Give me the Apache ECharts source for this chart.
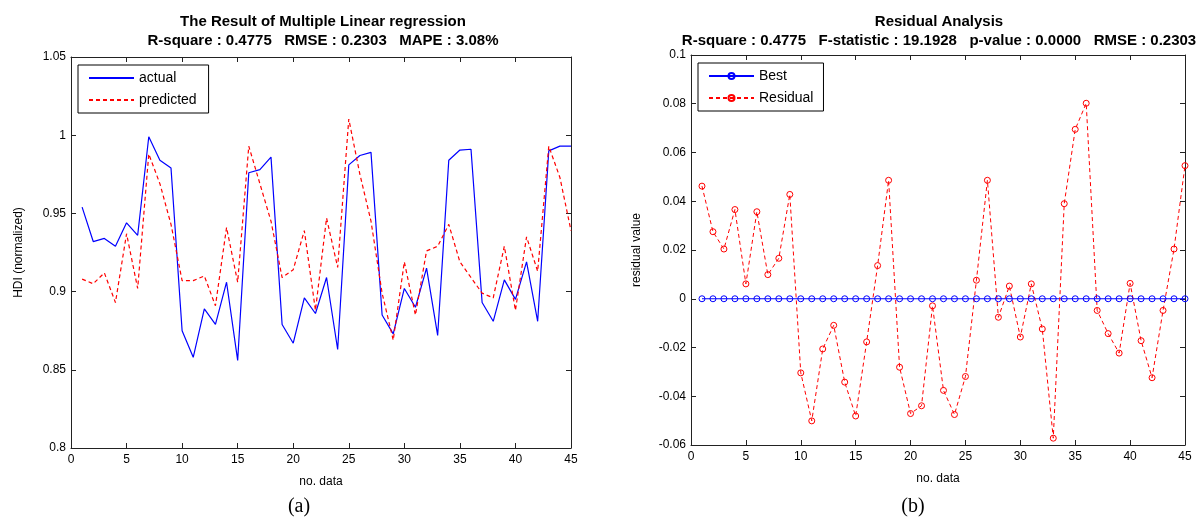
<!DOCTYPE html>
<html>
<head>
<meta charset="utf-8">
<script src="https://cdn.jsdelivr.net/npm/echarts@6/dist/echarts.min.js"></script>
<style>
html,body{margin:0;padding:0;background:#fff;}
#c{width:1199px;height:519px;}
</style>
</head>
<body>
<div id="c"></div>
<script>
// ---- data ----
const noData = [1,2,3,4,5,6,7,8,9,10,11,12,13,14,15,16,17,18,19,20,21,22,23,24,25,26,27,28,29,30,31,32,33,34,35,36,37,38,39,40,41,42,43,44,45];
const actual = [0.954,0.932,0.934,0.929,0.944,0.936,0.999,0.984,0.979,0.875,0.858,0.889,0.879,0.906,0.856,0.976,0.978,0.986,0.879,0.867,0.896,0.886,0.909,0.863,0.981,0.987,0.989,0.885,0.873,0.902,0.890,0.915,0.872,0.984,0.9905,0.991,0.893,0.881,0.9075,0.895,0.919,0.881,0.990,0.993,0.993];
const predicted = [0.908,0.905,0.912,0.893,0.937,0.902,0.988,0.969,0.943,0.907,0.907,0.910,0.891,0.941,0.906,0.993,0.969,0.945,0.909,0.914,0.939,0.888,0.947,0.9155,1.0103,0.975,0.945,0.899,0.869,0.919,0.885,0.926,0.929,0.943,0.919,0.909,0.899,0.896,0.929,0.888,0.935,0.913,0.993,0.973,0.939];
const best = [0,0,0,0,0,0,0,0,0,0,0,0,0,0,0,0,0,0,0,0,0,0,0,0,0,0,0,0,0,0,0,0,0,0,0,0,0,0,0,0,0,0,0,0,0];
const residual = [0.0462,0.0275,0.0204,0.0366,0.0061,0.0357,0.0099,0.0166,0.0428,-0.0304,-0.0501,-0.0206,-0.0109,-0.0342,-0.0481,-0.0177,0.0136,0.0486,-0.0281,-0.0471,-0.0439,-0.0029,-0.0376,-0.0475,-0.0319,0.0076,0.0486,-0.0076,0.0052,-0.0157,0.0061,-0.0124,-0.0572,0.039,0.0695,0.0802,-0.0048,-0.0143,-0.0223,0.0063,-0.0172,-0.0324,-0.0048,0.0204,0.0546];
const titleA = 'The Result of Multiple Linear regression';
const subA = 'R-square : 0.4775   RMSE : 0.2303   MAPE : 3.08%';
const titleB = 'Residual Analysis';
const subB = 'R-square : 0.4775   F-statistic : 19.1928   p-value : 0.0000   RMSE : 0.2303';

const pairs = (ys) => noData.map((x, i) => [x, ys[i]]);
const FONT = 'Liberation Sans, Arial, sans-serif';
const AX = '#222';

function xAxes(gi) {
  return [
    {gridIndex: gi, type: 'value', min: 0, max: 45, interval: 5, position: 'bottom',
     name: 'no. data', nameLocation: 'middle', nameGap: 28,
     nameTextStyle: {fontFamily: FONT, fontSize: 12, color: '#000'},
     axisLine: {show: true, onZero: false, lineStyle: {color: AX, width: 1}},
     axisTick: {show: true, inside: true, length: 5, lineStyle: {color: AX}},
     axisLabel: {fontFamily: FONT, fontSize: 12, color: '#000', margin: 6},
     splitLine: {show: false}},
    {gridIndex: gi, type: 'value', min: 0, max: 45, interval: 5, position: 'top',
     axisLine: {show: true, onZero: false, lineStyle: {color: AX, width: 1}},
     axisTick: {show: true, inside: true, length: 5, lineStyle: {color: AX}},
     axisLabel: {show: false}, splitLine: {show: false}}
  ];
}
function yAxes(gi, min, max, interval, name, nameGap) {
  return [
    {gridIndex: gi, type: 'value', min: min, max: max, interval: interval, position: 'left',
     name: name, nameLocation: 'middle', nameGap: nameGap, nameRotate: 90,
     nameTextStyle: {fontFamily: FONT, fontSize: 12, color: '#000'},
     axisLine: {show: true, onZero: false, lineStyle: {color: AX, width: 1}},
     axisTick: {show: true, inside: true, length: 5, lineStyle: {color: AX}},
     axisLabel: {fontFamily: FONT, fontSize: 12, color: '#000', margin: 5},
     splitLine: {show: false}},
    {gridIndex: gi, type: 'value', min: min, max: max, interval: interval, position: 'right',
     axisLine: {show: true, onZero: false, lineStyle: {color: AX, width: 1}},
     axisTick: {show: true, inside: true, length: 5, lineStyle: {color: AX}},
     axisLabel: {show: false}, splitLine: {show: false}}
  ];
}

const titleStyle = {fontFamily: FONT, fontSize: 15, fontWeight: 'bold', color: '#000', lineHeight: 19};
const option = {
  backgroundColor: '#fff',
  animation: false,
  title: [
    {text: titleA + '\n' + subA, left: 318, top: 7, textAlign: 'center', textStyle: titleStyle},
    {text: titleB + '\n' + subB, left: 934, top: 7, textAlign: 'center', textStyle: titleStyle},
    {text: '(a)', left: 294, top: 492, textAlign: 'center',
     textStyle: {fontFamily: 'Liberation Serif, Times New Roman, serif', fontSize: 20, fontWeight: 'normal', color: '#000'}},
    {text: '(b)', left: 908, top: 492, textAlign: 'center',
     textStyle: {fontFamily: 'Liberation Serif, Times New Roman, serif', fontSize: 20, fontWeight: 'normal', color: '#000'}}
  ],
  grid: [
    {left: 71, width: 500, top: 57, height: 391},
    {left: 691, width: 494, top: 55, height: 390}
  ],
  xAxis: [...xAxes(0), ...xAxes(1)],
  yAxis: [...yAxes(0, 0.8, 1.05, 0.05, 'HDI (normalized)', 46), ...yAxes(1, -0.06, 0.1, 0.02, 'residual value', 48)],
  legend: [
    {data: ['actual', 'predicted'], orient: 'vertical', left: 78, top: 65,
     padding: [6, 12, 6, 10], itemGap: 8, itemWidth: 45, itemHeight: 8,
     borderColor: '#000', borderWidth: 1, backgroundColor: '#fff',
     itemStyle: {opacity: 0},
     textStyle: {fontFamily: FONT, fontSize: 14, color: '#000'}},
    {data: ['Best', 'Residual'], orient: 'vertical', left: 698, top: 63,
     padding: [6, 10, 6, 10], itemGap: 8, itemWidth: 45, itemHeight: 7.5,
     borderColor: '#000', borderWidth: 1, backgroundColor: '#fff',
     textStyle: {fontFamily: FONT, fontSize: 14, color: '#000'}}
  ],
  series: [
    {name: 'actual', type: 'line', xAxisIndex: 0, yAxisIndex: 0, data: pairs(actual),
     symbol: 'none', lineStyle: {color: '#0000ff', width: 1.2}, itemStyle: {color: '#0000ff'}},
    {name: 'predicted', type: 'line', xAxisIndex: 0, yAxisIndex: 0, data: pairs(predicted),
     symbol: 'none', lineStyle: {color: '#ff0000', width: 1.2, type: [4, 3]}, itemStyle: {color: '#ff0000'}},
    {name: 'Best', type: 'line', xAxisIndex: 2, yAxisIndex: 2, data: pairs(best),
     symbol: 'circle', symbolSize: 6, showAllSymbol: true,
     lineStyle: {color: '#0000ff', width: 1.2},
     itemStyle: {color: 'rgba(255,255,255,0)', borderColor: '#0000ff', borderWidth: 1}},
    {name: 'Residual', type: 'line', xAxisIndex: 2, yAxisIndex: 2, data: pairs(residual),
     symbol: 'circle', symbolSize: 6, showAllSymbol: true,
     lineStyle: {color: '#ff0000', width: 1, type: [4, 3]},
     itemStyle: {color: 'rgba(255,255,255,0)', borderColor: '#ff0000', borderWidth: 1}}
  ]
};
const chart = echarts.init(document.getElementById('c'), null, {renderer: 'canvas'});
chart.setOption(option);
</script>
</body>
</html>
